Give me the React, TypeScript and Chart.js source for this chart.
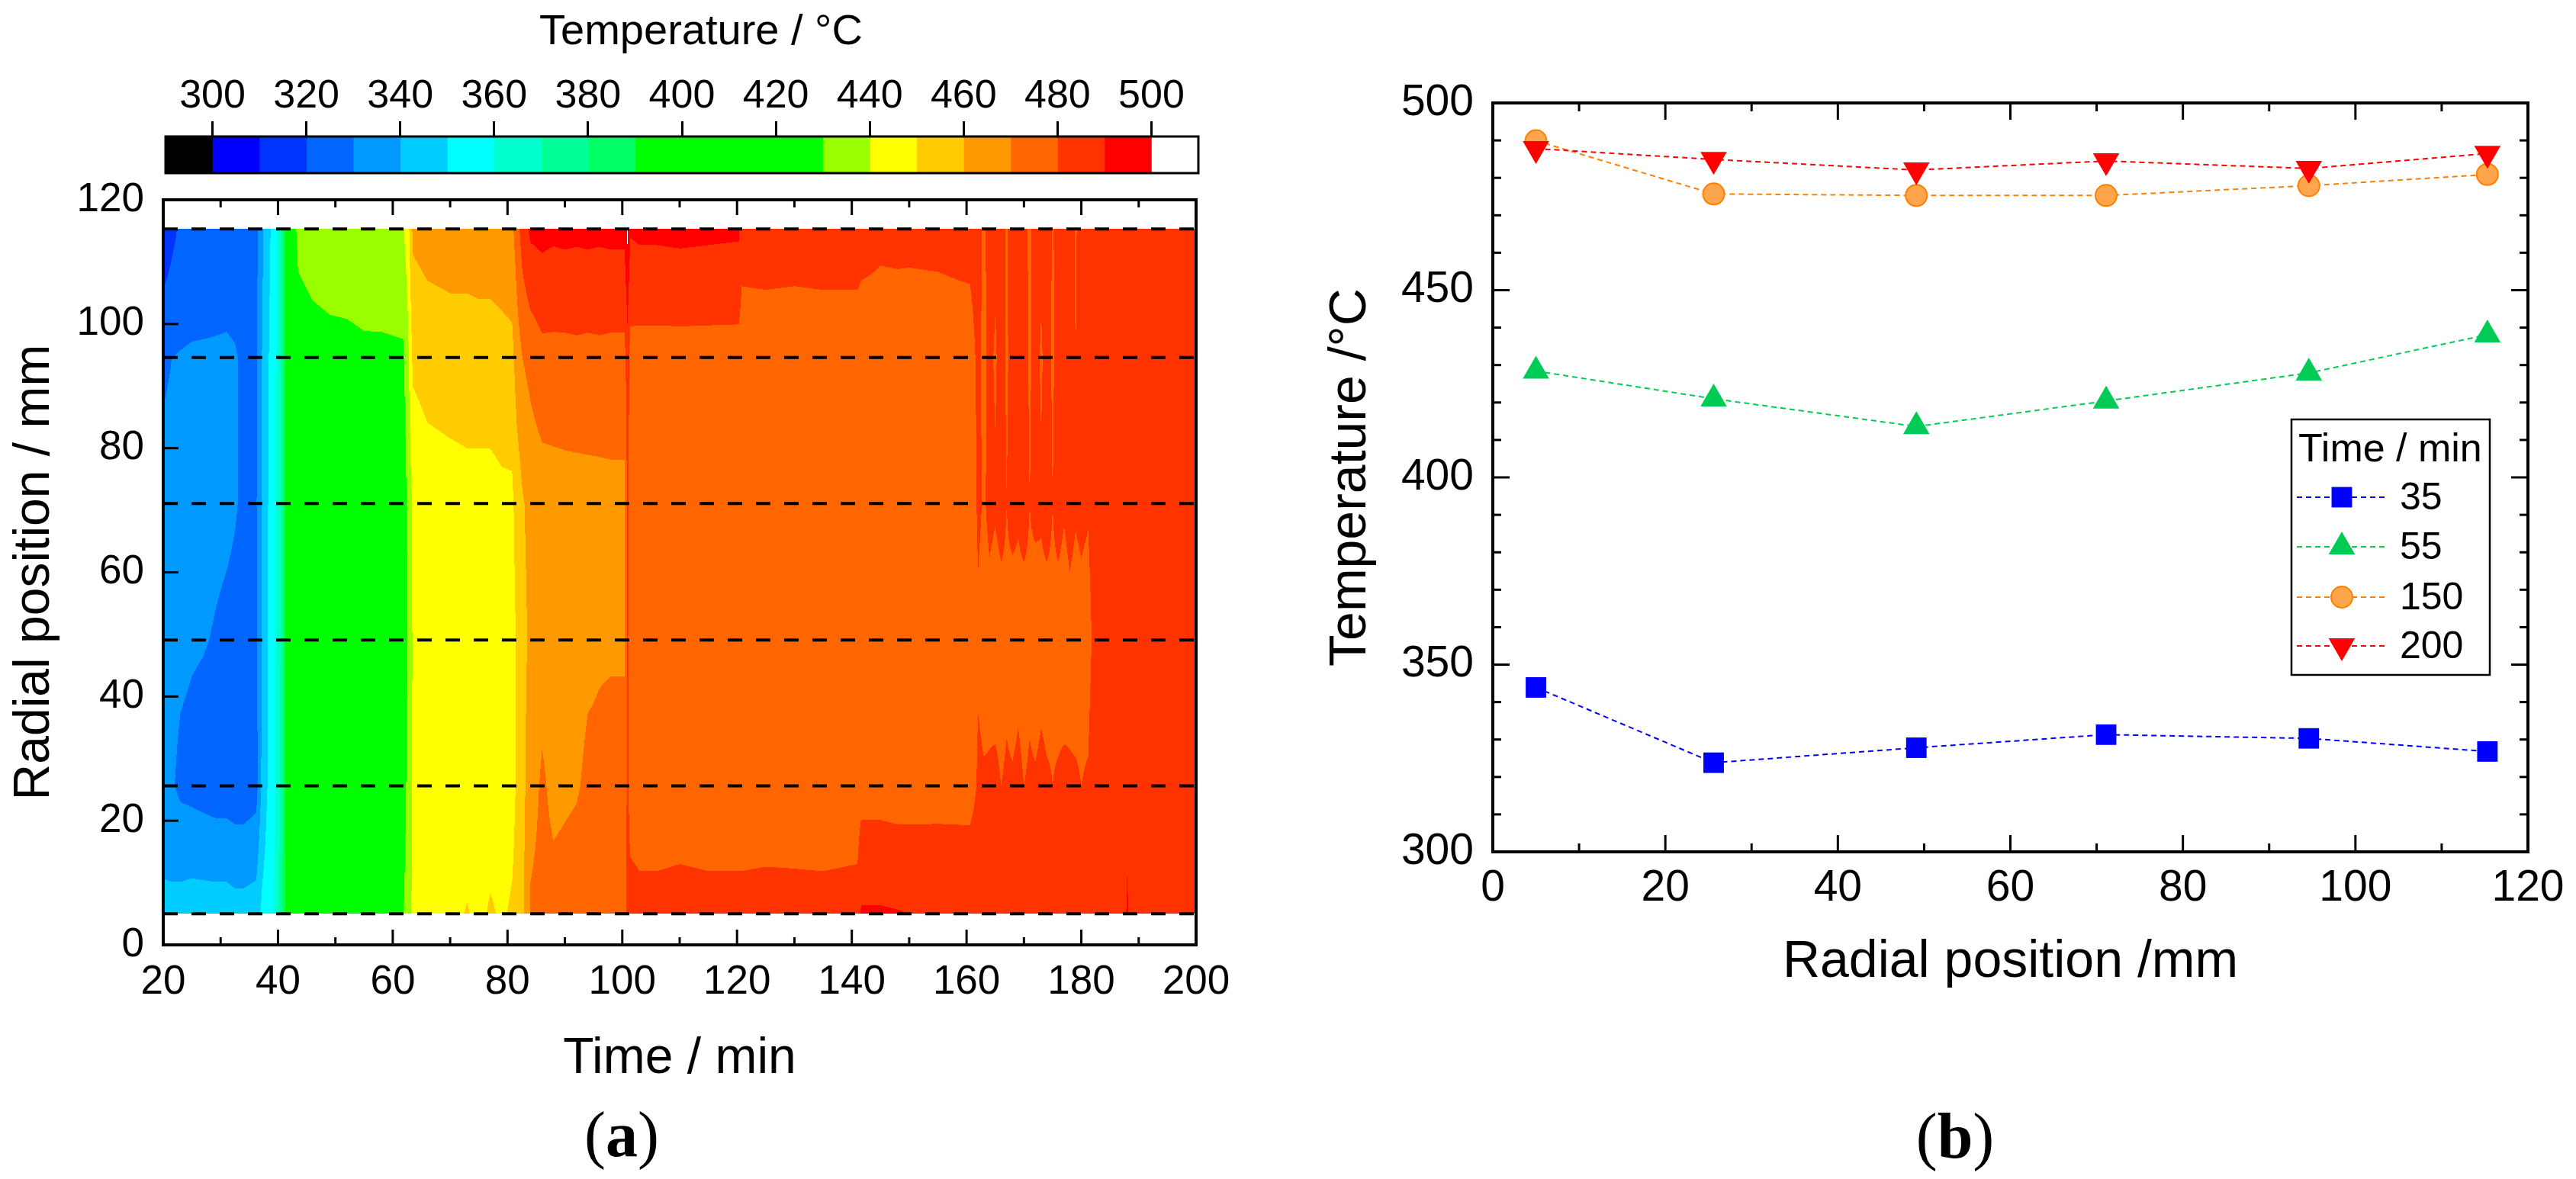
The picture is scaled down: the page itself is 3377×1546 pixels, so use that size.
import React, { useEffect, useRef } from 'react';
import { Chart, registerables } from 'chart.js';

Chart.register(...registerables);

const SANS = "'Liberation Sans', Arial, Helvetica, sans-serif";
const SERIF = "'Liberation Serif', 'Times New Roman', Times, serif";

// ---------------- Panel (a): thermocouple readings behind the contour map ----------------
const SENSOR_R = [5, 25.6, 49.1, 71.1, 94.6, 115.3]; // radial positions (mm)
const TIME_MIN = [20, 21.5, 23, 25, 27, 29, 31, 32.5, 34, 36.2, 37.2, 38.4, 39.6, 40.5, 41.3, 42.5, 43.5, 46, 49, 52, 55, 58, 61.8, 62.6, 63.5, 66, 70, 73, 75, 77, 79, 80.8, 81.6, 82.6, 84, 86, 88, 90, 92, 94, 96, 98, 100.4, 100.9, 101.4, 103, 106, 110, 115, 120.3, 120.8, 125, 130, 135, 141, 141.6, 145, 148, 150, 155, 160.6, 162, 163, 164, 165, 166, 167, 168, 169, 170, 171, 172, 173, 174, 175, 176, 177, 178, 179, 180, 181.2, 182.4, 187.6, 188, 188.4, 194, 200];
const T_R5 = [343, 343, 344, 345, 345, 345, 345, 344, 344, 345, 352, 356, 362, 374, 392, 402, 408, 415, 421, 426, 428.4, 429, 429.5, 435, 442, 445, 448, 450.5, 448, 451, 449, 451, 453, 458, 471, 472, 472, 472.5, 473, 473, 473.5, 474, 474, 484, 484, 483, 483, 483.5, 483, 483, 483, 483.5, 483, 483, 483.5, 491, 491, 490.5, 489.9, 489.5, 489, 487, 486, 486, 486, 486, 486, 486, 486, 486, 486, 486, 486, 486, 486, 486, 486, 486, 486, 486, 486, 487, 487.5, 492, 487.5, 488, 487.8];
const T_R26 = [332, 331, 328, 327, 326, 325, 325, 324, 324, 326, 342, 352, 360, 372, 390, 401, 405, 411, 415, 419, 421, 422, 424, 433, 441, 443, 444, 445, 444, 445, 445, 447, 451, 456, 467, 471, 468.5, 469, 469.5, 471, 471, 471.5, 471.5, 483, 475, 474, 474, 474.5, 474, 474, 474, 474, 474.5, 474, 474.5, 476, 476, 475.5, 475.7, 476, 476, 481, 480.5, 480.5, 481, 480, 480.5, 480.5, 481, 480, 480.5, 480.5, 481, 480.5, 480, 480.5, 481, 480.5, 480.5, 480, 480.5, 484, 484.5, 486, 484.5, 484.5, 484.9];
const T_R49 = [333, 333, 332, 331, 330.5, 329.5, 328.5, 328, 327.5, 328, 341, 352, 360, 371, 390, 401, 404, 407, 410, 412, 413.6, 415, 418, 431, 441, 442, 443, 444, 444, 444, 445, 446, 451, 457, 462, 467, 467, 467.5, 468, 469, 469.5, 469.5, 469.5, 482, 474, 474.5, 475, 475, 475, 475, 475, 475, 475, 475, 475, 475.5, 475.5, 475.3, 475.3, 475.5, 475.5, 479, 478, 478.5, 477.5, 478, 479, 477.5, 478.5, 478, 479, 477.5, 478.5, 478, 479, 478, 477.5, 478.5, 478, 478.5, 478, 482, 482, 482, 482, 482, 482.1];
const T_R71 = [332, 332, 332, 333, 333, 332, 331.5, 330.5, 329, 329, 341, 351, 359, 371, 391, 404, 409, 413, 416, 419, 420.4, 421, 423, 432, 442, 445, 446, 447, 447, 447, 448, 448, 454, 459, 463, 465, 465.5, 466, 466, 466.5, 466.5, 467, 467, 483, 474, 475, 475, 475, 475, 475, 475, 475, 475, 475, 475, 475.5, 475.5, 475.3, 475.3, 475.5, 475.5, 481, 479.5, 481, 480.5, 481.5, 480, 481.5, 480.5, 481.5, 480, 481, 480.5, 481.5, 480, 481.5, 480.5, 481.5, 480.5, 481, 480.5, 483, 483.5, 483.5, 483.5, 484, 484.5];
const T_R95 = [329, 330, 330.5, 331, 331, 331, 331, 330.5, 329, 328.5, 340, 350, 358, 370, 390, 414, 424, 426, 427, 427, 427.9, 428, 428.5, 437, 452, 454, 455, 455, 455, 455, 456, 457, 465, 470, 473, 477, 477, 477, 477.5, 477, 477.5, 477, 477, 486, 476.5, 476, 476, 476, 476, 476, 475, 475, 475, 475, 475.5, 477, 477.5, 477.8, 477.9, 478, 478, 481, 479, 481, 479.5, 481.5, 479.5, 481.5, 480, 481.5, 479.5, 481.5, 479.5, 481.5, 479.5, 481.5, 480, 481.5, 480, 481.5, 480.5, 482.5, 482.5, 482.5, 482.5, 482.5, 482.5];
const T_R115 = [312, 317, 322, 323, 324, 325, 326, 326, 326.5, 327, 338, 348, 356, 370, 392, 424, 433, 435, 436, 437, 438.1, 438, 439, 445, 462, 464, 465, 465, 466, 466, 467, 468, 475, 485, 492, 493, 492, 492.5, 492, 492.5, 492, 492.5, 492.5, 502, 491, 492, 492, 492.5, 492, 491.5, 484, 484.5, 484, 484.5, 484, 482, 481, 481, 480.9, 481, 481.5, 482, 479, 482, 481, 482, 479.5, 482.5, 481, 482, 479, 482, 481, 482.5, 479.5, 482, 481, 482.5, 479.5, 482, 481, 484, 485, 485, 485, 486, 486.5];
const SENSOR_SERIES = [T_R5, T_R26, T_R49, T_R71, T_R95, T_R115];

// contour levels (°C) and their fill colours
const LEVEL_EDGES = [300, 310, 320, 330, 340, 350, 360, 370, 380, 390, 430, 440, 450, 460, 470, 480, 490, 500];
const LEVEL_COLORS = ['#000000', '#0000FF', '#0033FF', '#0066FF', '#0099FF', '#00CCFF', '#00FFFF', '#00FFCC', '#00FF99', '#00FF66', '#00FF00', '#99FF00', '#FFFF00', '#FFCC00', '#FF9900', '#FF6600', '#FF3300', '#FF0000', '#FFFFFF'];
const CB_TICKS = [300, 320, 340, 360, 380, 400, 420, 440, 460, 480, 500];
const CB_BOUNDS = [290, 510];
const TIME_RANGE = [20, 200];
const RADIAL_RANGE = [0, 120];

// ---------------- Panel (b): radial profiles ----------------
const PROFILE_TIMES = ['35', '55', '150', '200'];
const T35 = [343.9, 323.8, 327.8, 331.3, 330.3, 326.8];
const T55 = [428.4, 421.0, 413.6, 420.4, 427.9, 438.1];
const T150 = [489.9, 475.7, 475.3, 475.3, 477.9, 480.9];
const T200 = [487.8, 484.9, 482.1, 484.5, 482.5, 486.5];
const PROFILE_X_RANGE = [0, 120];
const PROFILE_Y_RANGE = [300, 500];

type MarkerSpec = { style: string; rot: number; R: number; fill: string; stroke: string; bw: number; line: string };
const MARKERS: MarkerSpec[] = [
  { style: 'rect', rot: 0, R: 19, fill: '#0000FF', stroke: '#0000FF', bw: 0, line: '#0000FF' },
  { style: 'triangle', rot: 0, R: 20, fill: '#00CC55', stroke: '#00CC55', bw: 0, line: '#00CC55' },
  { style: 'circle', rot: 0, R: 14, fill: '#FFA64D', stroke: '#FF8000', bw: 2, line: '#FF8000' },
  { style: 'triangle', rot: 180, R: 20, fill: '#FF0000', stroke: '#FF0000', bw: 0, line: '#FF0000' },
];

// ---------------- helpers ----------------
function levelOf(T: number) {
  let i = 0;
  while (i < LEVEL_EDGES.length && T >= LEVEL_EDGES[i]) i++;
  return i;
}

function temperaturesAt(t: number) {
  let i = 0;
  while (i < TIME_MIN.length - 2 && t > TIME_MIN[i + 1]) i++;
  let f = (t - TIME_MIN[i]) / (TIME_MIN[i + 1] - TIME_MIN[i]);
  f = Math.max(0, Math.min(1, f));
  return SENSOR_SERIES.map((s) => s[i] + (s[i + 1] - s[i]) * f);
}

function drawMarker(ctx: CanvasRenderingContext2D, m: MarkerSpec, x: number, y: number) {
  ctx.beginPath();
  if (m.style === 'rect') {
    const s = m.R * Math.SQRT1_2;
    ctx.rect(x - s, y - s, 2 * s, 2 * s);
  } else if (m.style === 'circle') {
    ctx.arc(x, y, m.R, 0, Math.PI * 2);
  } else {
    let a = (m.rot * Math.PI) / 180;
    for (let k = 0; k < 3; k++) {
      const px = x + Math.sin(a) * m.R;
      const py = y - Math.cos(a) * m.R;
      if (k === 0) ctx.moveTo(px, py);
      else ctx.lineTo(px, py);
      a += (2 * Math.PI) / 3;
    }
  }
  ctx.closePath();
  ctx.fillStyle = m.fill;
  ctx.fill();
  if (m.bw > 0) {
    ctx.lineWidth = m.bw;
    ctx.strokeStyle = m.stroke;
    ctx.stroke();
  }
}

function zeroPad(s: any) {
  s.paddingLeft = 0;
  s.paddingRight = 0;
  s.paddingTop = 0;
  s.paddingBottom = 0;
}

const contourPlugin = {
  id: 'contourFill',
  beforeDatasetsDraw(chart: any) {
    const { ctx, chartArea: ca, scales } = chart;
    const xs = scales.x;
    const ys = scales.y;
    const rowStart = Math.round(ys.getPixelForValue(SENSOR_R[SENSOR_R.length - 1]));
    const rowEnd = Math.round(ys.getPixelForValue(SENSOR_R[0]));
    const rows: { k: number; f: number }[] = [];
    for (let py = rowStart; py < rowEnd; py++) {
      let r = ys.getValueForPixel(py + 0.5);
      r = Math.max(SENSOR_R[0], Math.min(SENSOR_R[SENSOR_R.length - 1], r));
      let k = 0;
      while (k < SENSOR_R.length - 2 && r > SENSOR_R[k + 1]) k++;
      rows.push({ k, f: (r - SENSOR_R[k]) / (SENSOR_R[k + 1] - SENSOR_R[k]) });
    }
    ctx.save();
    ctx.beginPath();
    ctx.rect(ca.left, ca.top, ca.right - ca.left, ca.bottom - ca.top);
    ctx.clip();
    const c0 = Math.floor(ca.left);
    const c1 = Math.ceil(ca.right);
    for (let px = c0; px < c1; px++) {
      const temps = temperaturesAt(xs.getValueForPixel(px + 0.5));
      let run = -1;
      let runStart = rowStart;
      for (let j = 0; j <= rows.length; j++) {
        let lvl = -2;
        if (j < rows.length) {
          const { k, f } = rows[j];
          lvl = levelOf(temps[k] + (temps[k + 1] - temps[k]) * f);
        }
        if (lvl !== run) {
          if (run >= 0) {
            ctx.fillStyle = LEVEL_COLORS[run];
            ctx.fillRect(px, runStart, 1, rowStart + j - runStart);
          }
          run = lvl;
          runStart = rowStart + j;
        }
      }
    }
    ctx.restore();
  },
};

function frameTicks(id: string, cfg: { major: number; minor: number; tickW: number; frameW: number; xMinor: number; yMinor: number; top: boolean; right: boolean }) {
  return {
    id,
    afterDatasetsDraw(chart: any) {
      const { ctx, chartArea: ca, scales } = chart;
      const xs = scales.x;
      const ys = scales.y;
      ctx.save();
      ctx.strokeStyle = '#000';
      ctx.lineWidth = cfg.tickW;
      const line = (x1: number, y1: number, x2: number, y2: number) => {
        ctx.beginPath();
        ctx.moveTo(x1, y1);
        ctx.lineTo(x2, y2);
        ctx.stroke();
      };
      const marks = (scale: any, nMinor: number) => {
        const vals = scale.ticks.map((t: any) => t.value);
        const out: { v: number; major: boolean }[] = [];
        vals.forEach((v: number, i: number) => {
          out.push({ v, major: true });
          if (i < vals.length - 1) {
            for (let k = 1; k <= nMinor; k++) out.push({ v: v + ((vals[i + 1] - v) * k) / (nMinor + 1), major: false });
          }
        });
        return out.filter((m) => m.v > scale.min + 1e-9 && m.v < scale.max - 1e-9);
      };
      marks(xs, cfg.xMinor).forEach((m) => {
        const p = xs.getPixelForValue(m.v);
        const L = m.major ? cfg.major : cfg.minor;
        line(p, ca.bottom, p, ca.bottom - L);
        if (cfg.top) line(p, ca.top, p, ca.top + L);
      });
      marks(ys, cfg.yMinor).forEach((m) => {
        const p = ys.getPixelForValue(m.v);
        const L = m.major ? cfg.major : cfg.minor;
        line(ca.left, p, ca.left + L, p);
        if (cfg.right) line(ca.right, p, ca.right - L, p);
      });
      ctx.lineWidth = cfg.frameW;
      ctx.strokeRect(ca.left, ca.top, ca.right - ca.left, ca.bottom - ca.top);
      ctx.restore();
    },
  };
}

const legendPlugin = {
  id: 'profileLegend',
  afterDraw(chart: any) {
    const { ctx, chartArea: ca } = chart;
    const right = ca.right - 50;
    const left = right - 260;
    const top = 550;
    const bottom = 885;
    ctx.save();
    ctx.fillStyle = '#fff';
    ctx.fillRect(left, top, right - left, bottom - top);
    ctx.strokeStyle = '#000';
    ctx.lineWidth = 2.5;
    ctx.strokeRect(left, top, right - left, bottom - top);
    ctx.fillStyle = '#000';
    ctx.font = `52px ${SANS}`;
    ctx.textAlign = 'left';
    ctx.textBaseline = 'alphabetic';
    ctx.fillText('Time / min', left + 9, 605);
    const rowsY = [652, 717, 783, 847];
    PROFILE_TIMES.forEach((label, i) => {
      const y = rowsY[i];
      const m = MARKERS[i];
      ctx.save();
      ctx.strokeStyle = m.line;
      ctx.lineWidth = 2;
      ctx.setLineDash([7, 5]);
      ctx.beginPath();
      ctx.moveTo(left + 7, y);
      ctx.lineTo(left + 124, y);
      ctx.stroke();
      ctx.restore();
      drawMarker(ctx, m, left + 66, y);
      ctx.fillStyle = '#000';
      ctx.font = `50px ${SANS}`;
      ctx.textBaseline = 'middle';
      ctx.fillText(label, left + 142, y + 2);
    });
    ctx.restore();
  },
};

const colorbarPlugin = {
  id: 'colorbarFrame',
  afterDraw(chart: any) {
    const { ctx, chartArea: ca } = chart;
    ctx.save();
    ctx.strokeStyle = '#000';
    ctx.lineWidth = 3;
    ctx.strokeRect(ca.left, ca.top, ca.right - ca.left, ca.bottom - ca.top);
    ctx.fillStyle = '#000';
    ctx.font = `56px ${SANS}`;
    ctx.textAlign = 'center';
    ctx.textBaseline = 'middle';
    ctx.fillText('Temperature / \u00B0C', (ca.left + ca.right) / 2 + 25, 43);
    ctx.restore();
  },
};

function configA(): any {
  return {
    type: 'scatter',
    data: {
      datasets: SENSOR_R.map((r) => ({
        data: [
          { x: TIME_RANGE[0], y: r },
          { x: TIME_RANGE[1], y: r },
        ],
        showLine: true,
        borderColor: '#000',
        borderWidth: 4,
        borderDash: [19, 18],
        pointRadius: 0,
        fill: false,
      })),
    },
    options: {
      responsive: true,
      maintainAspectRatio: false,
      animation: false,
      events: [],
      layout: { padding: { top: 262, right: 112, left: 0, bottom: 0 } },
      plugins: { legend: { display: false }, tooltip: { enabled: false } },
      scales: {
        x: {
          type: 'linear',
          min: TIME_RANGE[0],
          max: TIME_RANGE[1],
          grid: { display: false, drawTicks: false },
          border: { display: false },
          ticks: { stepSize: 20, autoSkip: false, maxRotation: 0, color: '#000', padding: 18, font: { family: SANS, size: 53 } },
          title: { display: true, text: 'Time / min', color: '#000', font: { family: SANS, size: 66 }, padding: { top: 0, bottom: 118 } },
          afterFit: (s: any) => {
            s.height = 307;
            zeroPad(s);
          },
        },
        y: {
          type: 'linear',
          min: RADIAL_RANGE[0],
          max: RADIAL_RANGE[1],
          grid: { display: false, drawTicks: false },
          border: { display: false },
          ticks: { stepSize: 20, autoSkip: false, color: '#000', padding: 25, font: { family: SANS, size: 53 } },
          title: { display: true, text: 'Radial position / mm', color: '#000', font: { family: SANS, size: 66 }, padding: { top: 6, bottom: 0 } },
          afterFit: (s: any) => {
            s.width = 214;
            zeroPad(s);
          },
        },
      },
    },
    plugins: [contourPlugin, frameTicks('frameA', { major: 20, minor: 10, tickW: 3, frameW: 4, xMinor: 1, yMinor: 0, top: true, right: false })],
  };
}

function configColorbar(): any {
  const bounds = [CB_BOUNDS[0], ...LEVEL_EDGES, CB_BOUNDS[1]];
  return {
    type: 'bar',
    data: {
      labels: ['T'],
      datasets: LEVEL_COLORS.map((c, i) => ({
        data: [[bounds[i], bounds[i + 1]]],
        backgroundColor: c,
        borderWidth: 0,
        barPercentage: 1,
        categoryPercentage: 1,
        grouped: false,
      })),
    },
    options: {
      indexAxis: 'y',
      responsive: true,
      maintainAspectRatio: false,
      animation: false,
      events: [],
      layout: { padding: { top: 0, right: 109, left: 217, bottom: 23 } },
      plugins: { legend: { display: false }, tooltip: { enabled: false } },
      scales: {
        x: {
          type: 'linear',
          position: 'top',
          min: CB_BOUNDS[0],
          max: CB_BOUNDS[1],
          afterBuildTicks: (s: any) => {
            s.ticks = CB_TICKS.map((v) => ({ value: v }));
          },
          grid: { display: true, drawOnChartArea: false, drawTicks: true, tickLength: 20, color: '#000', lineWidth: 3 },
          border: { display: false },
          ticks: { autoSkip: false, maxRotation: 0, color: '#000', padding: 1, font: { family: SANS, size: 52 } },
          afterFit: (s: any) => {
            s.height = 179;
            zeroPad(s);
          },
        },
        y: { display: false },
      },
    },
    plugins: [colorbarPlugin],
  };
}

function configB(): any {
  const series = [T35, T55, T150, T200];
  return {
    type: 'scatter',
    data: {
      datasets: series.map((vals, i) => {
        const m = MARKERS[i];
        return {
          label: PROFILE_TIMES[i],
          data: SENSOR_R.map((r, j) => ({ x: r, y: vals[j] })),
          showLine: true,
          borderColor: m.line,
          borderWidth: 2,
          borderDash: [7, 5],
          fill: false,
          pointStyle: m.style,
          pointRotation: m.rot,
          pointRadius: m.R,
          pointBackgroundColor: m.fill,
          pointBorderColor: m.stroke,
          pointBorderWidth: m.bw,
          order: series.length - 1 - i,
        };
      }),
    },
    options: {
      responsive: true,
      maintainAspectRatio: false,
      animation: false,
      events: [],
      layout: { padding: { top: 135, right: 63, left: 0, bottom: 0 } },
      plugins: { legend: { display: false }, tooltip: { enabled: false } },
      scales: {
        x: {
          type: 'linear',
          min: PROFILE_X_RANGE[0],
          max: PROFILE_X_RANGE[1],
          grid: { display: false, drawTicks: false },
          border: { display: false },
          ticks: { stepSize: 20, autoSkip: false, maxRotation: 0, color: '#000', padding: 14, font: { family: SANS, size: 57 } },
          title: { display: true, text: 'Radial position /mm', color: '#000', font: { family: SANS, size: 68 }, padding: { top: 0, bottom: 243 } },
          afterFit: (s: any) => {
            s.height = 429;
            zeroPad(s);
          },
        },
        y: {
          type: 'linear',
          min: PROFILE_Y_RANGE[0],
          max: PROFILE_Y_RANGE[1],
          grid: { display: false, drawTicks: false },
          border: { display: false },
          ticks: { stepSize: 50, autoSkip: false, color: '#000', padding: 25, font: { family: SANS, size: 57 } },
          title: { display: true, text: 'Temperature /\u00B0C', color: '#000', font: { family: SANS, size: 68 }, padding: { top: 50, bottom: 0 } },
          afterFit: (s: any) => {
            s.width = 277;
            zeroPad(s);
          },
        },
      },
    },
    plugins: [frameTicks('frameB', { major: 22, minor: 11, tickW: 3, frameW: 4, xMinor: 1, yMinor: 4, top: true, right: true }), legendPlugin],
  };
}

function panelLabel(cx: number, cy: number, fs: number): React.CSSProperties {
  return {
    position: 'absolute',
    left: cx,
    top: cy - 0.5875 * fs,
    transform: 'translateX(-50%)',
    fontFamily: SERIF,
    fontSize: fs,
    lineHeight: 1,
    whiteSpace: 'nowrap',
    color: '#000',
  };
}

export default function App() {
  const aRef = useRef<HTMLCanvasElement | null>(null);
  const bRef = useRef<HTMLCanvasElement | null>(null);
  const cRef = useRef<HTMLCanvasElement | null>(null);

  useEffect(() => {
    const charts: Chart[] = [];
    if (aRef.current) charts.push(new Chart(aRef.current, configA()));
    if (cRef.current) charts.push(new Chart(cRef.current, configColorbar()));
    if (bRef.current) charts.push(new Chart(bRef.current, configB()));
    return () => charts.forEach((c) => c.destroy());
  }, []);

  return (
    <div style={{ position: 'absolute', left: 0, top: 0, width: 3377, height: 1546, background: '#fff', overflow: 'hidden' }}>
      <div style={{ position: 'absolute', left: 0, top: 0, width: 1680, height: 1546 }}>
        <canvas ref={aRef} />
      </div>
      <div style={{ position: 'absolute', left: 0, top: 0, width: 1680, height: 250 }}>
        <canvas ref={cRef} />
      </div>
      <div style={{ position: 'absolute', left: 1680, top: 0, width: 1697, height: 1546 }}>
        <canvas ref={bRef} />
      </div>
      <div style={panelLabel(815, 1495, 84)}>
        (<b>a</b>)
      </div>
      <div style={panelLabel(2563, 1497, 84)}>
        (<b>b</b>)
      </div>
    </div>
  );
}
